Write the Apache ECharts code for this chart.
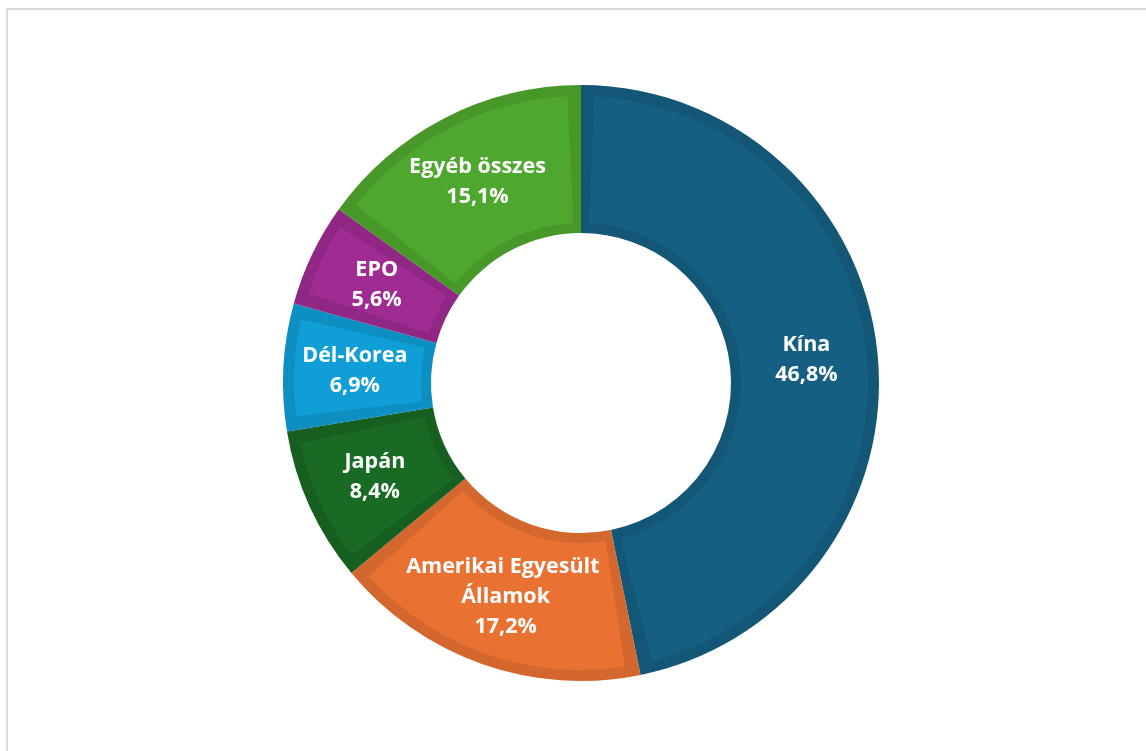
<!DOCTYPE html>
<html>
<head>
<meta charset="utf-8">
<script src="https://cdn.jsdelivr.net/npm/echarts@6/dist/echarts.min.js"></script>
<style>
html,body{margin:0;padding:0;background:#fff;}
#chart{width:1146px;height:751px;}
</style>
</head>
<body>
<div id="chart"></div>
<script>
const categories = ['Kína', 'Amerikai Egyesült Államok', 'Japán', 'Dél-Korea', 'EPO', 'Egyéb összes'];
const shares = [46.8, 17.2, 8.4, 6.9, 5.6, 15.1];
const fillColors = ['#156082', '#E97132', '#196B24', '#0F9ED5', '#A02B93', '#4EA72E'];
const edgeColors = ['#135676', '#D4672E', '#175F21', '#0E8FC1', '#912785', '#479829'];

const chart = echarts.init(document.getElementById('chart'), null, {renderer: 'canvas'});
const fmt = v => v.toFixed(1).replace('.', ',') + '%';

chart.setOption({
  backgroundColor: '#ffffff',
  animation: false,
  graphic: [{
    type: 'rect', silent: true, z: -10,
    shape: {x: 7, y: 9, width: 1300, height: 900},
    style: {fill: 'none', stroke: '#d9d9d9', lineWidth: 2}
  }],
  series: [
    {
      type: 'pie', silent: true,
      center: [581, 383], radius: [150, 298],
      startAngle: 90, clockwise: true,
      label: {show: false}, labelLine: {show: false},
      data: categories.map((c, i) => ({name: c, value: shares[i], itemStyle: {color: edgeColors[i]}}))
    },
    {
      type: 'pie', silent: true,
      center: [581, 383], radius: [160, 287],
      startAngle: 90, clockwise: true, padAngle: 5.4,
      labelLine: {show: false},
      label: {
        show: true, position: 'inside',
        color: '#ffffff', fontFamily: 'Open Sans', fontWeight: 'bold', fontSize: 21.5,
        lineHeight: 30, width: 215, overflow: 'break', align: 'center',
        formatter: p => p.name + '\n' + fmt(p.value)
      },
      data: categories.map((c, i) => ({name: c, value: shares[i], itemStyle: {color: fillColors[i]}}))
    }
  ]
});
</script>
</body>
</html>
